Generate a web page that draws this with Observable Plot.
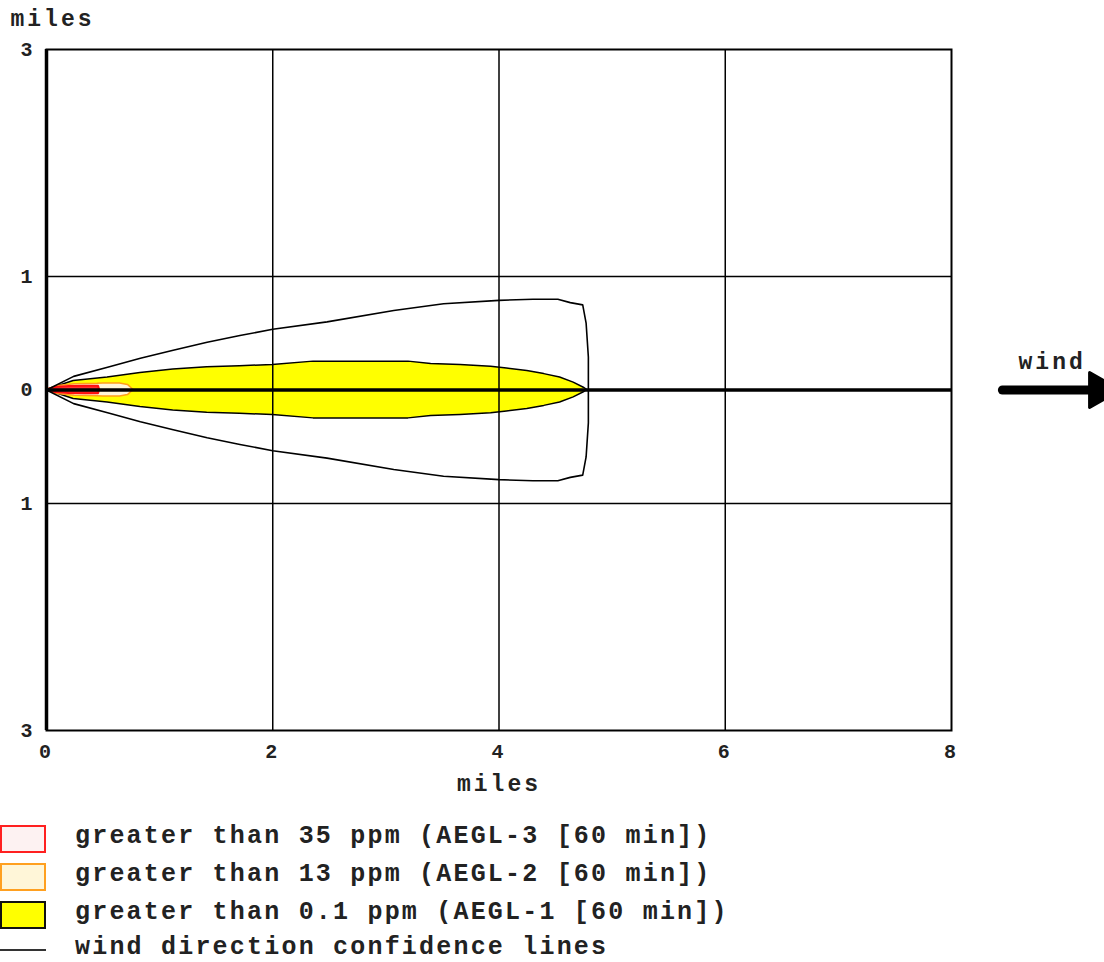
<!DOCTYPE html>
<html>
<head>
<meta charset="utf-8">
<script src="https://cdn.jsdelivr.net/npm/d3@7"></script>
<script src="https://cdn.jsdelivr.net/npm/@observablehq/plot@0.6"></script>
<style>
  html, body { margin: 0; padding: 0; background: #fff; overflow: hidden; }
  #chart { position: relative; width: 1104px; }
  .legend { margin-top: 18px; font-family: "Liberation Mono", monospace; font-weight: bold; font-size: 25px; letter-spacing: 2.2px; color: #222; }
  .row { position: relative; height: 38px; }
  .sw { position: absolute; left: 0; top: 7px; width: 42px; height: 24px; border: 2px solid; }
  .ln { position: absolute; left: 0; top: 17px; width: 46px; height: 0; border-top: 2px solid #333; }
  .lbl { position: absolute; left: 75px; top: 8px; line-height: 22px; white-space: pre; }
  .row.last .lbl { top: 5px; }
</style>
</head>
<body>
<div id="chart"></div>
<script>
// ---- data (miles) ----
// AEGL-1 (yellow) zone: downwind distance and half-width
const aegl1X = [0, 0.24, 0.54, 0.83, 1.12, 1.42, 1.71, 2.0, 2.36, 2.8, 3.2, 3.4, 3.66, 3.93, 4.07, 4.25, 4.4, 4.54, 4.66, 4.75, 4.78];
const aegl1H = [0, 0.08, 0.11, 0.15, 0.18, 0.20, 0.21, 0.22, 0.25, 0.25, 0.25, 0.23, 0.22, 0.205, 0.19, 0.167, 0.14, 0.11, 0.065, 0.02, 0];
// AEGL-2 (orange) zone
const aegl2X = [0, 0.1, 0.25, 0.45, 0.5, 0.65, 0.72, 0.77];
const aegl2H = [0, 0.035, 0.05, 0.055, 0.058, 0.058, 0.045, 0];
// AEGL-3 (red) zone
const aegl3X = [0, 0.08, 0.2, 0.35, 0.46, 0.47];
const aegl3H = [0, 0.022, 0.03, 0.032, 0.032, 0];
// wind direction confidence line (upper half, closed by arc at max distance)
const confX = [0, 0.24, 0.54, 0.83, 1.12, 1.42, 1.71, 2.0, 2.48, 3.07, 3.51, 4.0, 4.3, 4.52, 4.63, 4.74, 4.77, 4.79, 4.79];
const confY = [0, 0.12, 0.20, 0.28, 0.35, 0.42, 0.48, 0.535, 0.60, 0.70, 0.76, 0.79, 0.80, 0.80, 0.77, 0.75, 0.59, 0.29, 0];
// axis ticks
const xTicks = [0, 2, 4, 6, 8];
const yTicks = [-3, -1, 0, 1, 3];
const xGrid = [2, 4, 6];
const yGrid = [-1, 1];
// wind annotation (miles, beyond plot frame)
const windShaftX = [8.45, 9.22];
const windHeadX = [9.31];
const windLabel = [{x: 8.89, y: 0.25, text: "wind"}];
// legend
const legendItems = [
  {label: "greater than 35 ppm (AEGL-3 [60 min])", fill: "#fdf2f2", stroke: "#ff2020", type: "box"},
  {label: "greater than 13 ppm (AEGL-2 [60 min])", fill: "#fff6d8", stroke: "#ffa020", type: "box"},
  {label: "greater than 0.1 ppm (AEGL-1 [60 min])", fill: "#ffff00", stroke: "#111", type: "box"},
  {label: "wind direction confidence lines", type: "line"}
];

// ---- build tables ----
const zone = (X, H) => X.map((x, i) => ({x, h: H[i]}));
const z1 = zone(aegl1X, aegl1H), z2 = zone(aegl2X, aegl2H), z3 = zone(aegl3X, aegl3H);
const upper = confX.map((x, i) => ({x, y: confY[i]}));
const lower = upper.slice(0, -1).reverse().map(d => ({x: d.x, y: -d.y}));
const conf = upper.concat(lower);
const shaft = windShaftX.map(x => ({x, y: 0}));

const plot = Plot.plot({
  width: 1104,
  height: 800,
  marginLeft: 46,
  marginRight: 153,
  marginTop: 49,
  marginBottom: 70,
  x: {domain: [0, 8]},
  y: {domain: [-3, 3]},
  style: {fontFamily: "Liberation Mono, monospace", fontWeight: "bold", color: "#222", background: "white", overflow: "visible"},
  marks: [
    Plot.areaY(z1, {x: "x", y1: d => -d.h, y2: "h", fill: "#ffff00", stroke: "#000", strokeWidth: 1.5}),
    Plot.areaY(z2, {x: "x", y1: d => -d.h, y2: "h", fill: "#fff6d8", stroke: "#ff9f1a", strokeWidth: 1.5}),
    Plot.areaY(z3, {x: "x", y1: d => -d.h, y2: "h", fill: "#ff3030", stroke: "#ff1010", strokeWidth: 2}),
    Plot.gridX(xGrid, {stroke: "#000", strokeOpacity: 1, strokeWidth: 1.5}),
    Plot.gridY(yGrid, {stroke: "#000", strokeOpacity: 1, strokeWidth: 1.5}),
    Plot.ruleY([0], {stroke: "#000", strokeWidth: 3.5}),
    Plot.line(conf, {x: "x", y: "y", stroke: "#000", strokeWidth: 1.6}),
    Plot.frame({stroke: "#000", strokeWidth: 2}),
    Plot.ruleX([0], {stroke: "#000", strokeWidth: 3.5}),
    Plot.axisX(xTicks, {tickSize: 0, tickPadding: 13, fontSize: 20, label: null}),
    Plot.axisY(yTicks, {tickSize: 0, tickPadding: 11, fontSize: 20, tickFormat: d => Math.abs(d), label: null}),
    Plot.text(["miles"], {frameAnchor: "top-left", textAnchor: "start", lineAnchor: "middle", dx: -36, dy: -31, fontSize: 23}),
    Plot.text(["miles"], {frameAnchor: "bottom", textAnchor: "middle", lineAnchor: "middle", dy: 53, fontSize: 23}),
    Plot.line(shaft, {x: "x", y: "y", stroke: "#000", strokeWidth: 9, strokeLinecap: "round"}),
    Plot.dot(windHeadX, {x: d => d, y: 0, symbol: "triangle", rotate: 90, r: 13, fill: "#000", stroke: "#000", strokeWidth: 3, strokeLinejoin: "round"}),
    Plot.text(windLabel, {x: "x", y: "y", text: "text", fontSize: 23})
  ]
});
plot.style.letterSpacing = "3px";
document.getElementById("chart").appendChild(plot);

// ---- legend ----
const leg = d3.select("#chart").append("div").attr("class", "legend");
legendItems.forEach((it, i) => {
  const r = leg.append("div").attr("class", i === legendItems.length - 1 ? "row last" : "row");
  if (it.type === "box") r.append("div").attr("class", "sw").style("background", it.fill).style("border-color", it.stroke);
  else r.append("div").attr("class", "ln");
  r.append("div").attr("class", "lbl").text(it.label);
});
</script>
</body>
</html>
